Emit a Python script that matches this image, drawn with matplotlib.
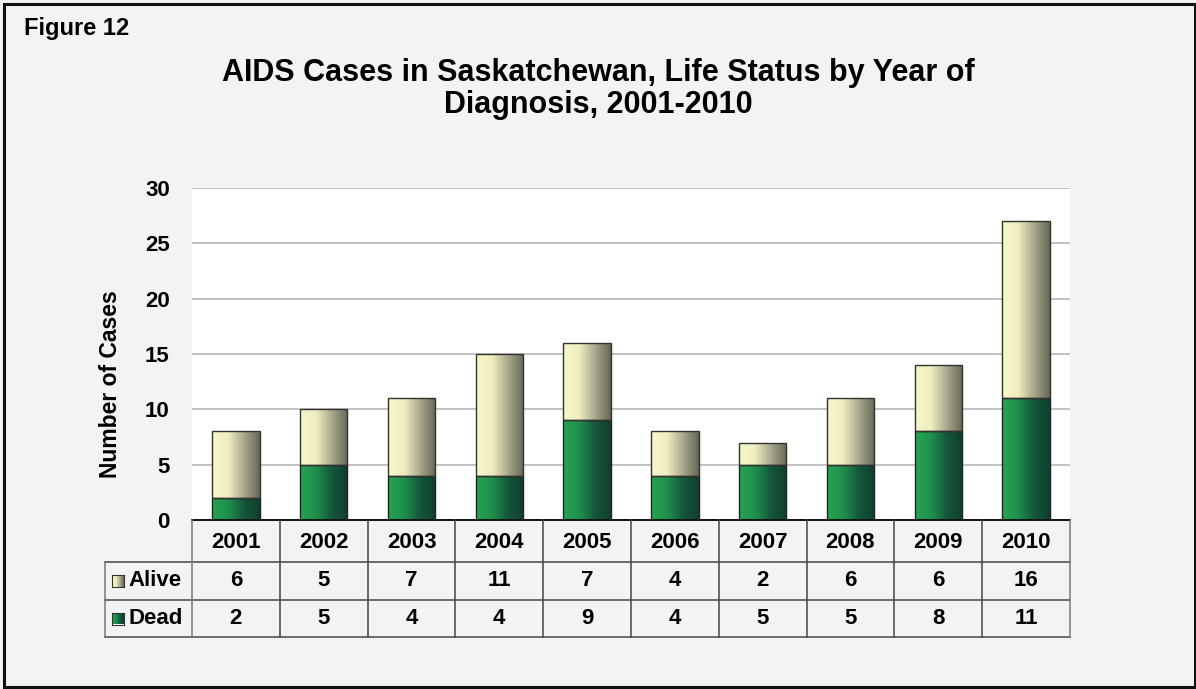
import matplotlib
matplotlib.use("Agg")
import matplotlib.pyplot as plt
import numpy as np
from matplotlib.patches import Rectangle
from matplotlib.colors import LinearSegmentedColormap

years = ["2001", "2002", "2003", "2004", "2005", "2006", "2007", "2008", "2009", "2010"]
alive = [6, 5, 7, 11, 7, 4, 2, 6, 6, 16]
dead = [2, 5, 4, 4, 9, 4, 5, 5, 8, 11]
series_names = ["Alive", "Dead"]
y_ticks = [0, 5, 10, 15, 20, 25, 30]

plt.rcParams['font.family'] = ['Liberation Sans', 'DejaVu Sans']

W, H = 1196, 689
fig = plt.figure(figsize=(W / 100, H / 100), dpi=100)
bg = "#f2f4f3"
fig.patch.set_facecolor(bg)

def fx(x):
    return x / W

def fy(y):
    return 1 - y / H

# outer border
fig.add_artist(Rectangle((fx(4), fy(687)), fx(1191), 683 / H, transform=fig.transFigure,
                         fill=False, edgecolor="#111111", linewidth=2.2))

left, right, top, bottom = 192, 1070, 188, 520
ax = fig.add_axes([fx(left), fy(bottom), fx(right - left), (bottom - top) / H])
ax.set_facecolor("white")
x = np.arange(len(years))
bw = 0.54
cmap_dead = LinearSegmentedColormap.from_list("d", ["#27a552", "#1f8f4c", "#14573a", "#113f2e"])
cmap_alive = LinearSegmentedColormap.from_list("a", ["#f7f7cc", "#eeeec0", "#a8a88c", "#666655"])
grad = np.linspace(0, 1, 256).reshape(1, -1)

b1 = ax.bar(x, dead, bw, color="none", edgecolor="#222222", linewidth=1.0, zorder=3)
b2 = ax.bar(x, alive, bw, bottom=dead, color="none", edgecolor="#333333", linewidth=1.0, zorder=3)
for bars, cm in ((b1, cmap_dead), (b2, cmap_alive)):
    for p in bars:
        x0, y0 = p.get_x(), p.get_y()
        im = ax.imshow(grad, cmap=cm, aspect="auto", zorder=2,
                       extent=[x0, x0 + p.get_width(), y0, y0 + p.get_height()])
        im.set_clip_path(p)

ax.set_xlim(-0.5, len(years) - 0.5)
ax.set_ylim(0, 30)
ax.set_yticks(y_ticks)
ax.set_yticklabels([str(t) for t in y_ticks], fontsize=16, fontweight="bold")
ax.yaxis.grid(True, color="#b8b8b8", linewidth=1.2, zorder=0)
ax.set_axisbelow(True)
ax.set_xticks([])
ax.tick_params(axis="y", length=0, pad=16)
for s in ["left", "right", "top"]:
    ax.spines[s].set_visible(False)
ax.spines["bottom"].set_color("#111111")
ax.spines["bottom"].set_linewidth(1.4)
ax.set_ylabel("Number of Cases", fontsize=16.5, fontweight="bold")
ax.yaxis.set_label_coords(-(192 - 122) / (right - left), (520 - 384) / (bottom - top))

# data table
colw = (right - left) / len(years)
lc = "#444444"
def hline(y, x0, x1, c=lc, lw=1.1):
    fig.add_artist(plt.Line2D([fx(x0), fx(x1)], [fy(y), fy(y)], color=c, lw=lw))
def vline(x_, y0, y1, c=lc, lw=1.1):
    fig.add_artist(plt.Line2D([fx(x_), fx(x_)], [fy(y0), fy(y1)], color=c, lw=lw))

hline(562, 105, right)
hline(600, 105, right)
hline(637, 105, right)
for i in range(len(years) + 1):
    vline(left + i * colw, 520, 637, c="#777777" if i in (0, len(years)) else lc)
vline(105, 562, 637, c="#777777")

for i, yr in enumerate(years):
    cx = left + (i + 0.5) * colw
    fig.text(fx(cx), fy((520 + 562) / 2 + 2), yr, ha="center", va="center", fontsize=16, fontweight="bold")
    fig.text(fx(cx), fy((562 + 600) / 2), str(alive[i]), ha="center", va="center", fontsize=16, fontweight="bold")
    fig.text(fx(cx), fy((600 + 637) / 2), str(dead[i]), ha="center", va="center", fontsize=16, fontweight="bold")

for (name, cm, ya, yb) in ((series_names[0], cmap_alive, 562, 600), (series_names[1], cmap_dead, 600, 637)):
    cy = (ya + yb) / 2
    lax = fig.add_axes([fx(112), fy(cy + 6), fx(12), 12 / H])
    lax.imshow(grad, cmap=cm, aspect="auto")
    lax.set_xticks([]); lax.set_yticks([])
    for s in lax.spines.values():
        s.set_color("#333333"); s.set_linewidth(0.8)
    fig.text(fx(128), fy(cy), name, ha="left", va="center", fontsize=16, fontweight="bold")

fig.text(fx(24), fy(28), "Figure 12", ha="left", va="center", fontsize=17, fontweight="bold")
fig.text(fx(598), fy(89), "AIDS Cases in Saskatchewan, Life Status by Year of\nDiagnosis, 2001-2010",
         ha="center", va="center", fontsize=22, fontweight="bold", linespacing=1.1)

fig.savefig("out.png", dpi=100, facecolor=bg)
